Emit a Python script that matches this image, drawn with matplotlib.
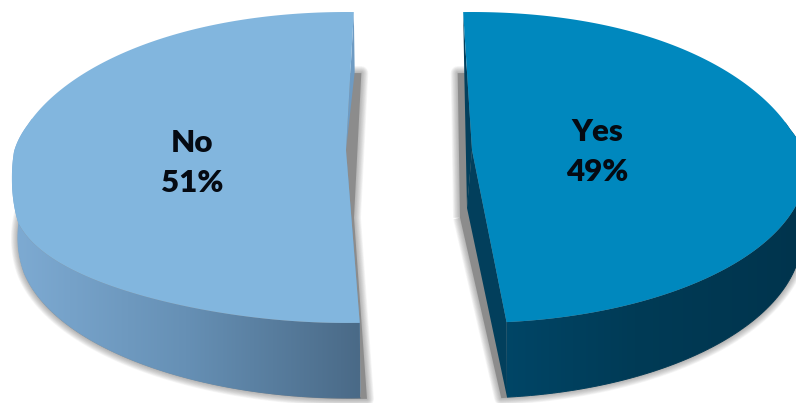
import matplotlib
matplotlib.use("Agg")
import matplotlib.pyplot as plt
import numpy as np
from matplotlib.collections import LineCollection
from matplotlib.colors import LinearSegmentedColormap
from matplotlib.patches import Polygon

categories = ["Yes", "No"]
shares = [49, 51]

top_colors = ["#0088be", "#82b6de"]
inner_colors = ["#023f5c", "#6e9bc3"]
side_ramps = [["#00496c", "#013b56", "#00344d"], ["#7eabd3", "#6690b5", "#4a6a87"]]

# clockwise from the far side of the disc, degrees
start_angles = [-1.7, 177.9]
centers_x = [472, 346]
shadow_shift = [-7, 7]
cut_mid_x = [467, 346]
cut_mid_y = [208, 150]
base_mid_x = [467, 347]
label_pos = [(597, 152), (192, 163)]

# rim corrections in pixels: far half, near half of the top, near half of the base
far_sag = [10, 5]
near_sag_top = [0, 29]
near_sag_low = [0, 7]

TOP_CY, TOP_B, TOP_A = 150, 153.5, 332
BOTTOM_CY, BOTTOM_B, BOTTOM_A = 216.7, 160.9, 327
PERSPECTIVE = 0.1124


def project(theta, cx, cy, a, b, sag_far, sag_near):
    u = np.sin(theta)
    v = np.cos(theta)
    w = 1 + PERSPECTIVE * v
    far_weight = np.clip((v + 0.1) / 0.3, 0, 1)
    near_weight = np.clip(-v / 0.3, 0, 1)
    sag = sag_far * np.abs(u) ** 4 * far_weight + sag_near * np.abs(u) ** 3 * near_weight
    return np.column_stack([cx + a * u / w, cy - b * v / w + sag])


def draw_wedge(axis, index):
    cx = centers_x[index]
    start = np.radians(start_angles[index])
    sweep = np.radians(shares[index] * 3.6)
    theta = np.linspace(start, start + sweep, 240)

    top_rim = project(theta, cx, TOP_CY, TOP_A, TOP_B, far_sag[index], near_sag_top[index])
    low_rim = project(theta, cx + 1, BOTTOM_CY, BOTTOM_A, BOTTOM_B, 0, near_sag_low[index])
    top_mid = np.array([[cx, TOP_CY]])
    low_mid = np.array([[base_mid_x[index], BOTTOM_CY]])

    # soft drop shadow under the base, pushed out towards the gap
    push = shadow_shift[index] * (1 - np.abs(np.sin(theta))) ** 2
    shadow_rim = low_rim + np.column_stack([push, np.ones_like(push)])
    base = np.vstack([low_mid + [shadow_shift[index], 1], shadow_rim])
    for width in np.arange(10, 0, -1.0):
        axis.add_patch(Polygon(base, closed=True, facecolor="none",
                               edgecolor="#666666", linewidth=width,
                               alpha=0.06, joinstyle="round", zorder=1))
    axis.add_patch(Polygon(base, closed=True, facecolor="#8c8c8c",
                           edgecolor="none", zorder=1))

    # cut faces along both radii
    cut_mid = [cut_mid_x[index], cut_mid_y[index]]
    first = [top_rim[0], top_mid[0], cut_mid, low_rim[0]]
    last = [top_rim[-1], top_mid[0], cut_mid, low_rim[-1]]
    for face in (first, last):
        axis.add_patch(Polygon(face, closed=True, facecolor=inner_colors[index],
                               edgecolor="none", zorder=2))

    # outer rim, only the front part shows, shaded left to right
    front = np.cos(theta) < 0.25
    ramp = LinearSegmentedColormap.from_list("rim", side_ramps[index])
    xmin, xmax = top_rim[:, 0].min(), top_rim[:, 0].max()
    rim_outline = np.vstack([top_rim[front], low_rim[front][::-1]])
    rim_patch = Polygon(rim_outline, closed=True, facecolor="none", edgecolor="none",
                        transform=axis.transData)
    axis.add_patch(rim_patch)
    image = axis.imshow(np.linspace(0, 1, 256)[None, :], cmap=ramp, aspect="auto",
                        extent=[xmin, xmax, 403, 0], zorder=3)
    image.set_clip_path(rim_patch)

    # smooth the clipped lower edge of the rim
    front_low = low_rim[front]
    points = front_low.reshape(-1, 1, 2)
    segments = np.concatenate([points[:-1], points[1:]], axis=1)
    mid_x = (front_low[:-1, 0] + front_low[1:, 0]) / 2
    edge_colors = ramp(np.clip((mid_x - xmin) / (xmax - xmin), 0, 1))
    axis.add_collection(LineCollection(segments, colors=edge_colors, linewidths=0.7, zorder=3))

    # top of the slice
    outline = np.vstack([top_mid, top_rim])
    axis.add_patch(Polygon(outline, closed=True, facecolor=top_colors[index],
                           edgecolor="none", zorder=4))

    x, y = label_pos[index]
    axis.text(x, y, f"{categories[index]}\n{shares[index]}%", family="Lato",
              fontweight="heavy", fontsize=22.5, color="#050a12", ha="center",
              va="center", linespacing=1.5, zorder=5)


def main():
    figure = plt.figure(figsize=(7.96, 4.03), dpi=100)
    axis = figure.add_axes([0, 0, 1, 1])

    for index in range(len(categories)):
        draw_wedge(axis, index)

    axis.set_xlim(0, 796)
    axis.set_ylim(403, 0)
    axis.axis("off")

    figure.savefig("out.png", dpi=100, facecolor="white")


if __name__ == "__main__":
    main()
